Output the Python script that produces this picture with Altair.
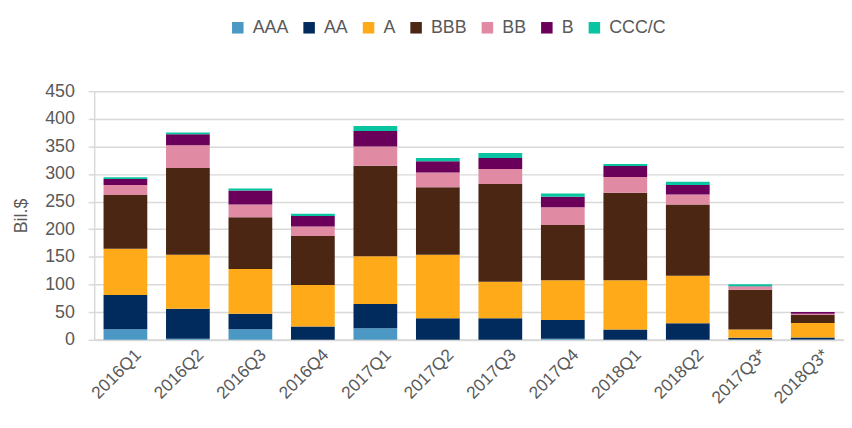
import altair as alt
import pandas as pd

categories = ["2016Q1", "2016Q2", "2016Q3", "2016Q4", "2017Q1", "2017Q2",
              "2017Q3", "2017Q4", "2018Q1", "2018Q2", "2017Q3*", "2018Q3*"]
ratings = ["AAA", "AA", "A", "BBB", "BB", "B", "CCC/C"]
colors = ["#4a98c3", "#002b5c", "#ffab19", "#4a2613", "#e08aa3", "#6b005a", "#08c4a0"]

AAA = [19, 2, 19, 0, 21, 0, 0, 2, 0, 0, 0.5, 0.5]
AA = [62, 54, 28, 24, 44, 39, 39, 34, 18.5, 30, 3, 3.5]
A = [84, 98, 81, 75, 86, 115, 66, 72, 89.5, 86, 15, 26.5]
BBB = [97, 157, 94, 89, 164, 122, 177, 100, 158, 129, 72, 14.3]
BB = [18, 41, 23, 17, 35, 27, 27, 32, 28.5, 18, 6, 2.4]
B = [11, 20, 25, 19, 28, 20, 20, 19, 20, 17, 0.5, 3]
CCC = [3, 3, 4, 4, 9, 6, 9, 6, 3.5, 6, 3.5, 0]

series = [AAA, AA, A, BBB, BB, B, CCC]
rows = []
for i, c in enumerate(categories):
    for j, r in enumerate(ratings):
        rows.append({"q": c, "rating": r, "value": series[j][i], "ord": j})
df = pd.DataFrame(rows)

FONT = "Liberation Sans"
GRAY = "#595959"
GRID = "#d9d9d9"

chart = alt.Chart(df).mark_bar().encode(
    x=alt.X("q:N", sort=categories, title=None,
            scale=alt.Scale(paddingInner=0.3, paddingOuter=0.15),
            axis=alt.Axis(labelAngle=-45, labelFontSize=17.5, labelColor=GRAY,
                          labelFont=FONT, domainColor=GRID, domainWidth=2,
                          ticks=False, labelPadding=6, labelOffset=7)),
    y=alt.Y("value:Q", stack="zero",
            scale=alt.Scale(domain=[0, 450], nice=False),
            axis=alt.Axis(values=list(range(0, 451, 50)), title="Bil.$",
                          titleFont=FONT, titleFontSize=18, titleColor=GRAY,
                          titleFontWeight="normal", titleX=-68,
                          titleBaseline="alphabetic",
                          labelFont=FONT, labelFontSize=18, labelColor=GRAY,
                          labelPadding=14, tickSize=6, tickColor=GRID,
                          tickWidth=1.5, domainColor=GRID, domainWidth=1.5,
                          gridColor=GRID, gridWidth=1.5)),
    color=alt.Color("rating:N", scale=alt.Scale(domain=ratings, range=colors),
                    legend=alt.Legend(orient="none", legendX=136, legendY=-73,
                                      direction="horizontal", title=None,
                                      symbolType="square", symbolSize=135,
                                      symbolStrokeWidth=0, labelFont=FONT,
                                      labelFontSize=18, labelColor=GRAY,
                                      labelOffset=6, columnPadding=11)),
    order=alt.Order("ord:Q", sort="ascending"),
).properties(
    width=757, height=251,
    padding={"left": 87, "top": 82, "right": 0, "bottom": 79},
    autosize="none",
).configure_view(stroke=None)

chart.save("out.html", embed_options={"renderer": "svg", "actions": False})
